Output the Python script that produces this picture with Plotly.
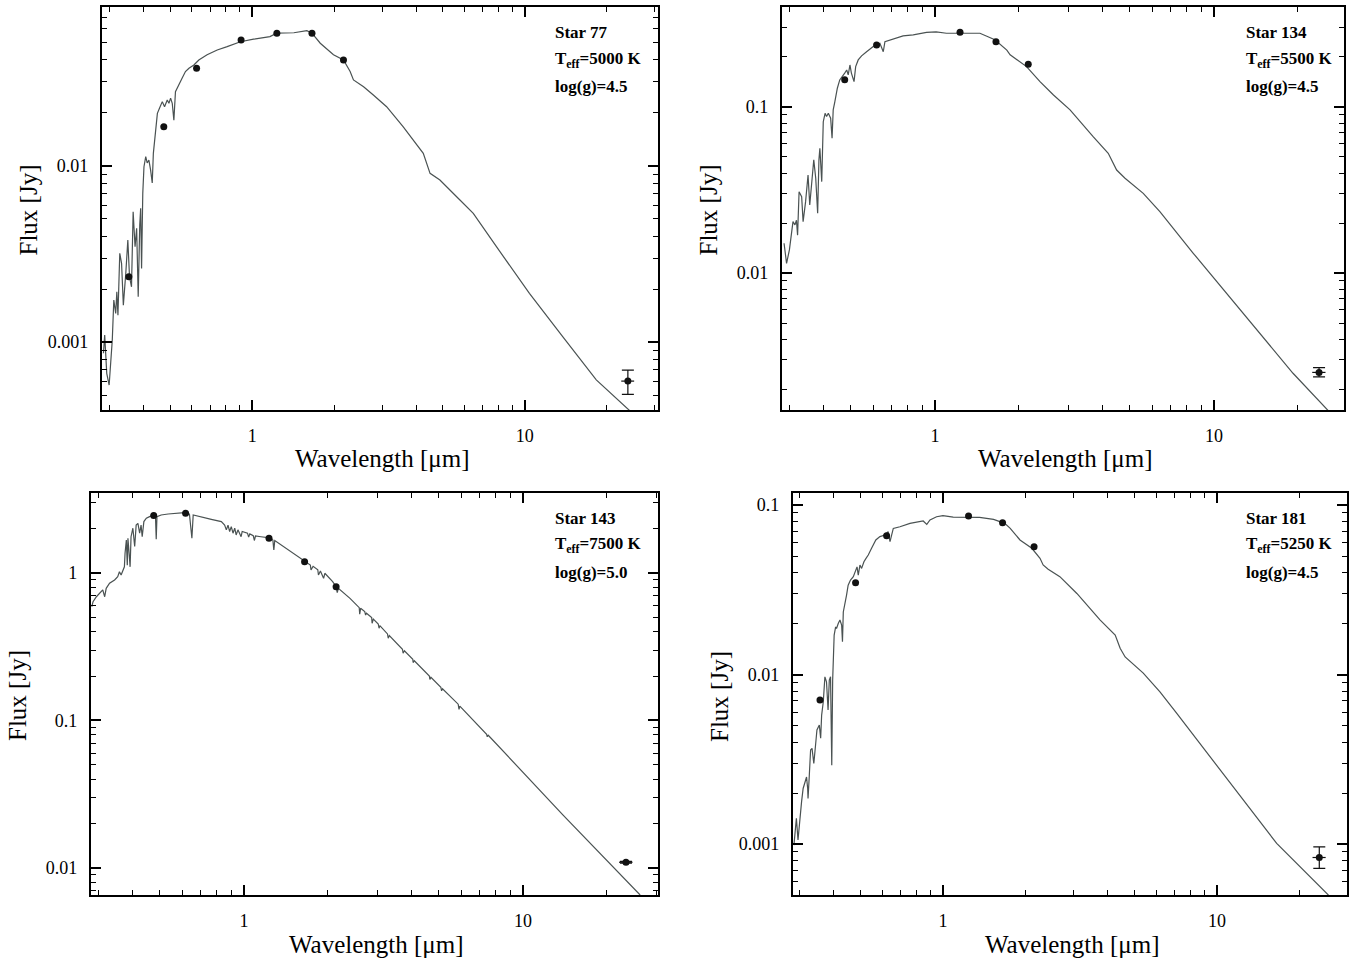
import plotly.graph_objects as go

# ---- Star 77 : model spectrum (wavelength in micron, flux in Jy) ----
wl_77 = [0.284, 0.287, 0.292, 0.298, 0.306, 0.310, 0.315, 0.318, 0.321, 0.326,
         0.331, 0.336, 0.343, 0.349, 0.354, 0.360, 0.365, 0.371, 0.376, 0.381,
         0.386, 0.389, 0.392, 0.396, 0.400, 0.406, 0.411, 0.417, 0.423, 0.429,
         0.433, 0.439, 0.448, 0.456, 0.467, 0.476, 0.487, 0.494, 0.501, 0.508,
         0.515, 0.522, 0.532, 0.542, 0.552, 0.568, 0.585, 0.610, 0.636, 0.682,
         0.743, 0.808, 0.904, 1.01, 1.16, 1.23, 1.42, 1.585, 1.655, 1.775,
         1.985, 2.16, 2.285, 2.35, 2.56, 2.78, 3.11, 3.58, 4.24, 4.49,
         4.88, 5.78, 6.47, 7.87, 10.4, 13.8, 18.3, 24.3]
flux_77 = [0.000863, 0.001096, 0.000664, 0.00057, 0.001026, 0.001733, 0.001455, 0.00193, 0.00142, 0.00319,
           0.0028, 0.00162, 0.00245, 0.0038, 0.00235, 0.00206, 0.0055, 0.00348, 0.00443, 0.00181,
           0.00463, 0.00575, 0.00262, 0.0070, 0.0099, 0.0113, 0.0104, 0.0108, 0.0095, 0.0080,
           0.0118, 0.0153, 0.0199, 0.0213, 0.0232, 0.0217, 0.0237, 0.0227, 0.0243, 0.0227,
           0.0182, 0.0264, 0.0282, 0.0295, 0.0315, 0.0344, 0.0359, 0.0375, 0.040, 0.0428,
           0.0456, 0.0476, 0.0508, 0.0525, 0.0543, 0.0568, 0.0571, 0.0587, 0.0568, 0.0498,
           0.0428, 0.040, 0.0344, 0.0308, 0.0282, 0.0253, 0.0217, 0.0167, 0.0118, 0.00908,
           0.00832, 0.00641, 0.00538, 0.00348, 0.00189, 0.00107, 0.00061, 0.000407]
phot_wl_77 = [0.352, 0.473, 0.624, 0.909, 1.23, 1.655, 2.16]
phot_flux_77 = [0.00235, 0.0167, 0.0359, 0.052, 0.0568, 0.0568, 0.040]
mips_77 = [23.9, 0.0006, 0.000693, 0.000505]  # wl, flux, upper, lower

# ---- Star 134 ----
wl_134 = [0.288, 0.294, 0.301, 0.306, 0.310, 0.315, 0.319, 0.322, 0.326, 0.333,
          0.337, 0.344, 0.351, 0.356, 0.363, 0.368, 0.374, 0.380, 0.384, 0.387,
          0.393, 0.398, 0.404, 0.409, 0.415, 0.423, 0.428, 0.432, 0.438, 0.447,
          0.456, 0.467, 0.475, 0.483, 0.489, 0.496, 0.502, 0.513, 0.520, 0.531,
          0.546, 0.569, 0.601, 0.635, 0.653, 0.662, 0.710, 0.769, 0.836, 0.933,
          1.01, 1.10, 1.45, 1.64, 1.81, 1.86, 2.13, 2.38, 2.66, 3.05,
          3.69, 4.18, 4.48, 4.80, 5.58, 6.40, 8.43, 11.1, 14.6, 19.2, 25.7]
flux_134 = [0.0151, 0.01144, 0.01377, 0.01734, 0.0204, 0.0195, 0.0208, 0.0169, 0.0309, 0.0288,
            0.0204, 0.0269, 0.0389, 0.0257, 0.0399, 0.048, 0.0372, 0.0229, 0.048, 0.0564,
            0.0355, 0.0815, 0.0916, 0.0875, 0.0916, 0.0855, 0.0648, 0.096, 0.1076, 0.1297,
            0.1455, 0.1524, 0.160, 0.167, 0.156, 0.179, 0.160, 0.142, 0.175, 0.192,
            0.203, 0.215, 0.231, 0.242, 0.215, 0.247, 0.257, 0.268, 0.272, 0.281,
            0.283, 0.278, 0.278, 0.254, 0.220, 0.206, 0.175, 0.142, 0.118, 0.096,
            0.0662, 0.0526, 0.0417, 0.0372, 0.0302, 0.0234, 0.01315, 0.00755, 0.00433, 0.00249, 0.00148]
phot_wl_134 = [0.475, 0.618, 1.23, 1.655, 2.16]
phot_flux_134 = [0.146, 0.236, 0.282, 0.247, 0.181]
mips_134 = [23.8, 0.00252, 0.00269, 0.00237]

# ---- Star 143 ----
wl_143 = [0.285, 0.288, 0.296, 0.304, 0.312, 0.317, 0.321, 0.330, 0.344, 0.353,
          0.358, 0.363, 0.368, 0.373, 0.375, 0.379, 0.382, 0.384, 0.387, 0.391,
          0.394, 0.400, 0.406, 0.411, 0.417, 0.423, 0.428, 0.432, 0.438, 0.447,
          0.459, 0.472, 0.482, 0.485, 0.488, 0.505, 0.535, 0.572, 0.612, 0.638,
          0.651, 0.658, 0.703, 0.764, 0.830, 0.853, 0.865, 0.877, 0.889, 0.901,
          0.914, 0.927, 0.938, 0.952, 0.977, 0.986,
          1.03, 1.04, 1.05, 1.08, 1.09, 1.10, 1.15, 1.24, 1.27, 1.28,
          1.29, 1.40, 1.52, 1.65, 1.73, 1.74, 1.77, 1.84, 1.85, 1.88,
          1.93, 1.95, 2.08, 2.14, 2.16, 2.18, 2.36,
          2.40, 2.59, 2.60, 2.62, 2.71, 2.73, 2.75, 2.87, 2.88, 2.91,
          3.03, 3.05, 3.07, 3.27, 3.29, 3.32, 3.70, 3.72, 3.76, 4.03,
          4.04, 4.08, 4.62, 4.64, 4.68, 5.08, 5.11, 5.15, 5.86, 5.90,
          5.94, 7.41, 7.45, 7.51, 13.9, 26.3]
flux_143 = [0.591, 0.639, 0.690, 0.728, 0.767, 0.690, 0.787, 0.851, 0.897, 0.944,
            1.02, 0.969, 1.05, 1.10, 1.36, 1.67, 1.13, 1.72, 1.43, 1.10,
            1.76, 2.01, 1.51, 2.11, 2.17, 1.86, 2.11, 1.76, 2.23, 2.35,
            2.41, 2.45, 2.41, 1.69, 2.41, 2.47, 2.51, 2.54, 2.56, 2.50,
            1.72, 2.47, 2.41, 2.31, 2.23, 2.11, 1.96, 2.11, 1.91, 2.06,
            1.86, 2.01, 1.81, 1.96, 1.76, 1.91,
            1.86, 1.75, 1.84, 1.79, 1.66, 1.78, 1.76, 1.73, 1.67, 1.43,
            1.66, 1.49, 1.35, 1.21, 1.13, 1.05, 1.11, 1.05, 0.969, 1.03,
            0.92, 0.995, 0.873, 0.807, 0.735, 0.787, 0.69,
            0.673, 0.582, 0.525, 0.576, 0.547, 0.519, 0.533, 0.498, 0.456, 0.486,
            0.451, 0.422, 0.44, 0.386, 0.361, 0.376, 0.304, 0.286, 0.297, 0.260,
            0.247, 0.254, 0.200, 0.190, 0.196, 0.168, 0.159, 0.164, 0.129, 0.119,
            0.125, 0.0806, 0.0776, 0.0794, 0.0229, 0.00656]
phot_wl_143 = [0.475, 0.618, 1.23, 1.65, 2.14]
phot_flux_143 = [2.45, 2.54, 1.72, 1.19, 0.807]
mips_143 = [23.4, 0.01094, 0.0111, 0.0108]

# ---- Star 181 ----
wl_181 = [0.286, 0.292, 0.296, 0.301, 0.305, 0.309, 0.313, 0.318, 0.321, 0.322,
          0.325, 0.329, 0.333, 0.338, 0.343, 0.347, 0.354, 0.358, 0.361, 0.366,
          0.371, 0.376, 0.381, 0.385, 0.389, 0.393, 0.396, 0.398, 0.401, 0.406,
          0.409, 0.415, 0.421, 0.427, 0.430, 0.433, 0.439, 0.445, 0.451, 0.460,
          0.471, 0.480, 0.486, 0.491, 0.498, 0.505, 0.515, 0.524, 0.534, 0.549,
          0.569, 0.589, 0.614, 0.631, 0.641, 0.659, 0.697, 0.758, 0.847, 0.873,
          0.897, 0.948, 1.00, 1.09, 1.15, 1.36, 1.53, 1.68, 1.76, 1.91,
          2.11, 2.26, 2.32, 2.42, 2.67, 3.08, 3.74, 4.25, 4.43, 4.62,
          5.38, 6.19, 7.13, 9.43, 12.5, 16.5, 25.5]
flux_181 = [0.000986, 0.00142, 0.001057, 0.00148, 0.00178, 0.00213, 0.00233, 0.00249, 0.00213, 0.00186,
            0.00244, 0.00359, 0.00367, 0.00299, 0.00384, 0.00471, 0.00504, 0.00421, 0.00577, 0.00692,
            0.0097, 0.00907, 0.00618, 0.00929, 0.0097, 0.00292, 0.00929, 0.0130, 0.0171, 0.0191,
            0.0187, 0.0200, 0.0210, 0.0196, 0.0156, 0.0234, 0.0257, 0.0294, 0.0337, 0.0361,
            0.0378, 0.0404, 0.0432, 0.0386, 0.0443, 0.0423, 0.0463, 0.0485, 0.0507, 0.0556,
            0.0622, 0.0651, 0.0665, 0.0696, 0.0608, 0.0728, 0.0745, 0.078, 0.0805, 0.0769,
            0.0816, 0.0853, 0.0865, 0.0849, 0.0849, 0.0846, 0.0823, 0.078, 0.0729, 0.0622,
            0.0556, 0.0485, 0.0443, 0.0418, 0.0378, 0.0301, 0.0210, 0.0171, 0.0143, 0.0127,
            0.0102, 0.00792, 0.0059, 0.00327, 0.00182, 0.00101, 0.0005]
phot_wl_181 = [0.356, 0.480, 0.623, 1.24, 1.65, 2.15]
phot_flux_181 = [0.00708, 0.0348, 0.0659, 0.0861, 0.0787, 0.0568]
mips_181 = [23.6, 0.000834, 0.000964, 0.00072]

star_names = ["Star 77", "Star 134", "Star 143", "Star 181"]
teff_labels = ["5000 K", "5500 K", "7500 K", "5250 K"]
logg_labels = ["4.5", "4.5", "5.0", "4.5"]

W, H = 1354, 958
SERIF = "Liberation Serif, Times New Roman, serif"
LINE_COL = "#4a5252"

# panel boxes in pixels (left, right, top, bottom) and log ranges
panels = [
    dict(box=(102, 658, 7, 410), xr=[-0.552, 1.489], yr=[-3.386, -1.097],
         spec=(wl_77, flux_77), phot=(phot_wl_77, phot_flux_77), mips=mips_77),
    dict(box=(782, 1344, 7, 410), xr=[-0.548, 1.466], yr=[-2.825, -0.398],
         spec=(wl_134, flux_134), phot=(phot_wl_134, phot_flux_134), mips=mips_134),
    dict(box=(91, 658, 493, 895), xr=[-0.548, 1.484], yr=[-2.183, 0.542],
         spec=(wl_143, flux_143), phot=(phot_wl_143, phot_flux_143), mips=mips_143),
    dict(box=(793, 1347, 493, 895), xr=[-0.547, 1.474], yr=[-3.30, -0.929],
         spec=(wl_181, flux_181), phot=(phot_wl_181, phot_flux_181), mips=mips_181),
]

x_minor = [0.3, 0.4, 0.5, 0.6, 0.7, 0.8, 0.9, 2, 3, 4, 5, 6, 7, 8, 9, 20, 30]
y_minor = [m * 10.0 ** e for e in range(-4, 1) for m in range(2, 10)]
y_major = [0.001, 0.01, 0.1, 1]
y_major_txt = ["0.001", "0.01", "0.1", "1"]

fig = go.Figure()
layout = dict(width=W, height=H, margin=dict(l=0, r=0, t=0, b=0, autoexpand=False),
              paper_bgcolor="white", plot_bgcolor="white", showlegend=False)

annotations = []
for i, p in enumerate(panels):
    n = "" if i == 0 else str(i + 1)
    xa, ya = "x" + n, "y" + n
    l, r, t, b = p["box"]
    wl, fl = p["spec"]
    fig.add_trace(go.Scatter(x=wl, y=fl, mode="lines", xaxis=xa, yaxis=ya,
                             line=dict(color=LINE_COL, width=1.2)))
    fig.add_trace(go.Scatter(x=p["phot"][0], y=p["phot"][1], mode="markers", xaxis=xa, yaxis=ya,
                             marker=dict(color="#111111", size=7)))
    mw, mf, mhi, mlo = p["mips"]
    fig.add_trace(go.Scatter(x=[mw], y=[mf], mode="markers", xaxis=xa, yaxis=ya,
                             marker=dict(color="#111111", size=7),
                             error_y=dict(type="data", symmetric=False, array=[mhi - mf],
                                          arrayminus=[mf - mlo], width=6, thickness=1.2, color="#111111"),
                             error_x=dict(type="data", array=[1.3], width=0, thickness=1.2, color="#111111")))

    common = dict(type="log", showline=True, linecolor="black", linewidth=2.2, mirror="ticks",
                  ticks="inside", ticklen=10, tickwidth=1.6, tickcolor="black", automargin=False,
                  showgrid=False, zeroline=False, ticklabelstandoff=8,
                  tickfont=dict(family=SERIF, size=18, color="black"))
    layout["xaxis" + n] = dict(common, domain=[l / W, r / W], range=p["xr"], anchor=ya,
                               tickmode="array", tickvals=[1, 10], ticktext=["1", "10"],
                               minor=dict(tickmode="array", tickvals=x_minor, ticks="inside",
                                          ticklen=5, tickwidth=1.4, tickcolor="black", showgrid=False))
    layout["yaxis" + n] = dict(common, domain=[1 - b / H, 1 - t / H], range=p["yr"], anchor=xa,
                               tickmode="array", tickvals=y_major, ticktext=y_major_txt,
                               minor=dict(tickmode="array", tickvals=y_minor, ticks="inside",
                                          ticklen=5, tickwidth=1.4, tickcolor="black", showgrid=False))

    # axis titles
    annotations.append(dict(text="Flux [Jy]", x=(l - 74) / W, y=1 - ((t + b) / 2 + 2) / H,
                            xref="paper", yref="paper", showarrow=False, textangle=-90,
                            xanchor="center", yanchor="middle",
                            font=dict(family=SERIF, size=25, color="black")))
    annotations.append(dict(text="Wavelength [μm]", x=((l + r) / 2 + 2) / W, y=1 - (b + 49) / H,
                            xref="paper", yref="paper", showarrow=False,
                            xanchor="center", yanchor="middle",
                            font=dict(family=SERIF, size=25, color="black")))
    # star labels
    lx = 553 if i in (0, 2) else 1244
    ty = 33 if i < 2 else 518
    for k, txt in enumerate(["<b>%s</b>" % star_names[i],
                             "<b>T<sub>eff</sub>=%s</b>" % teff_labels[i],
                             "<b>log(g)=%s</b>" % logg_labels[i]]):
        annotations.append(dict(text=txt, x=lx / W, y=1 - (ty + 27 * k) / H, xref="paper", yref="paper",
                                xanchor="left", yanchor="middle", showarrow=False,
                                font=dict(family=SERIF, size=17, color="black")))

layout["annotations"] = annotations
fig.update_layout(**layout)
# the page body has a default margin; drop it so the figure sits at the window corner
fig.write_html("out.html", config={"displayModeBar": False},
               post_script="document.body.style.margin='0';")
